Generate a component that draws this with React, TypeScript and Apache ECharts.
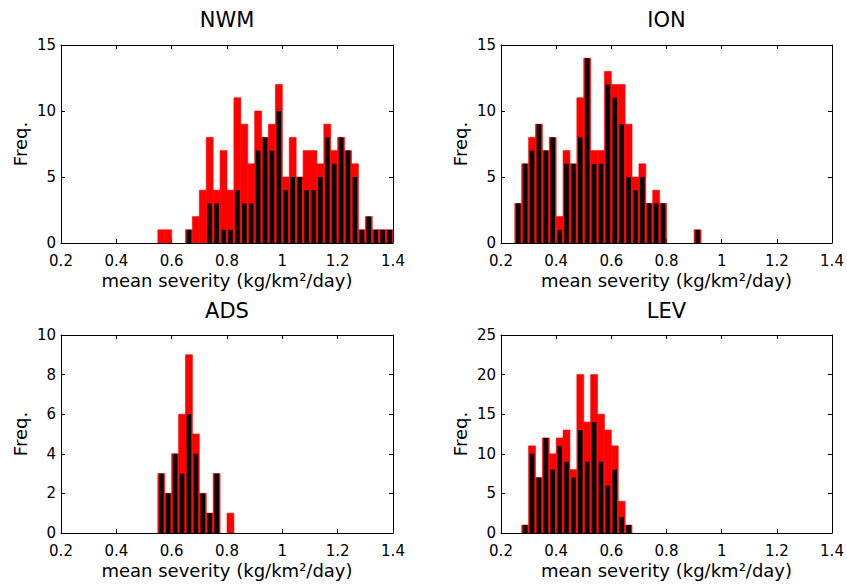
import React, { useEffect, useRef } from 'react';
import * as echarts from 'echarts';

// Histogram bins: 48 bins of 0.025 from 0.2 to 1.4
const X_MIN = 0.2;
const X_MAX = 1.4;
const X_TICK_INTERVAL = 0.2;
const BIN_WIDTH = 0.025;
const BIN_COUNT = 48;

const nwmRed = [0,0,0,0,0,0,0,0,0,0,0,0,0,0,1,1,0,0,1,2,4,8,4,7,4,11,9,6,10,8,9,12,5,8,5,7,7,6,9,7,8,7,6,1,2,1,1,1];
const nwmBlack = [0,0,0,0,0,0,0,0,0,0,0,0,0,0,0,0,0,0,1,0,0,3,3,1,1,4,3,3,7,8,7,10,4,5,5,4,4,5,8,6,8,7,5,1,2,1,1,1];

const ionRed = [0,0,3,6,8,9,7,8,2,7,6,11,14,7,7,13,12,12,9,5,6,3,4,3,0,0,0,0,1,0,0,0,0,0,0,0,0,0,0,0,0,0,0,0,0,0,0,0];
const ionBlack = [0,0,3,6,7,9,7,8,1,6,6,8,14,6,6,12,11,9,5,4,5,3,3,3,0,0,0,0,1,0,0,0,0,0,0,0,0,0,0,0,0,0,0,0,0,0,0,0];

const adsRed = [0,0,0,0,0,0,0,0,0,0,0,0,0,0,3,2,4,6,9,5,2,1,3,0,1,0,0,0,0,0,0,0,0,0,0,0,0,0,0,0,0,0,0,0,0,0,0,0];
const adsBlack = [0,0,0,0,0,0,0,0,0,0,0,0,0,0,3,2,4,3,6,4,2,1,3,0,0,0,0,0,0,0,0,0,0,0,0,0,0,0,0,0,0,0,0,0,0,0,0,0];

const levRed = [0,0,0,1,11,7,12,10,12,13,8,20,14,20,15,13,11,4,1,0,0,0,0,0,0,0,0,0,0,0,0,0,0,0,0,0,0,0,0,0,0,0,0,0,0,0,0,0];
const levBlack = [0,0,0,1,10,7,12,8,11,9,7,13,9,14,9,6,8,2,1,0,0,0,0,0,0,0,0,0,0,0,0,0,0,0,0,0,0,0,0,0,0,0,0,0,0,0,0,0];

const titles = ['NWM', 'ION', 'ADS', 'LEV'];
const yMaxes = [15, 15, 10, 25];
const yIntervals = [5, 5, 2, 5];
const redSeries = [nwmRed, ionRed, adsRed, levRed];
const blackSeries = [nwmBlack, ionBlack, adsBlack, levBlack];

const X_NAME = 'mean severity (kg/km²/day)';
const Y_NAME = 'Freq.';

const FONT = '"DejaVu Sans", sans-serif';

// layout (pixels)
const GRID_LEFTS = [61, 501, 61, 501];
const GRID_TOPS = [45, 45, 335, 335];
const GRID_WIDTHS = [332, 331, 332, 331];
const GRID_HEIGHT = 198;
const TITLE_YS = [19.5, 19.5, 311, 311];

function toBins(values: number[]) {
  const out: number[][] = [];
  for (let i = 0; i < BIN_COUNT; i++) {
    const x0 = X_MIN + i * BIN_WIDTH;
    out.push([x0, x0 + BIN_WIDTH, values[i]]);
  }
  return out;
}

function makeRender(fraction: number, color: string, stroke: boolean) {
  return (params: any, api: any) => {
    const x0 = api.value(0);
    const x1 = api.value(1);
    const v = api.value(2);
    if (!v) return null;
    const mid = (x0 + x1) / 2;
    const half = ((x1 - x0) * fraction) / 2;
    const a = api.coord([mid - half, v]);
    const b = api.coord([mid + half, 0]);
    return {
      type: 'rect',
      shape: { x: a[0], y: a[1], width: b[0] - a[0], height: b[1] - a[1] },
      style: stroke
        ? { fill: color, stroke: color, lineWidth: 0.6 }
        : { fill: color },
    };
  };
}

export default function App() {
  const ref = useRef<HTMLDivElement>(null);

  useEffect(() => {
    if (!ref.current) return;
    const chart = echarts.init(ref.current, undefined, { renderer: 'svg' });

    const grid: any[] = [];
    const xAxis: any[] = [];
    const yAxis: any[] = [];
    const series: any[] = [];
    const graphic: any[] = [];

    for (let p = 0; p < 4; p++) {
      grid.push({
        left: GRID_LEFTS[p],
        top: GRID_TOPS[p],
        width: GRID_WIDTHS[p],
        height: GRID_HEIGHT,
        containLabel: false,
      });
      const axisLine = { show: true, onZero: false, lineStyle: { color: '#000', width: 1 } };
      const axisTick = { show: true, inside: true, length: 4, lineStyle: { color: '#000', width: 1 } };
      xAxis.push({
        type: 'value',
        gridIndex: p,
        position: 'bottom',
        min: X_MIN,
        max: X_MAX,
        interval: X_TICK_INTERVAL,
        axisLine,
        axisTick,
        splitLine: { show: false },
        axisLabel: { color: '#000', fontFamily: FONT, fontSize: 15, lineHeight: 15, margin: 10 },
        name: X_NAME,
        nameLocation: 'middle',
        nameGap: 28,
        nameTextStyle: { color: '#000', fontFamily: FONT, fontSize: 18, lineHeight: 18 },
      });
      xAxis.push({
        type: 'value',
        gridIndex: p,
        position: 'top',
        min: X_MIN,
        max: X_MAX,
        interval: X_TICK_INTERVAL,
        axisLine,
        axisTick,
        splitLine: { show: false },
        axisLabel: { show: false },
      });
      yAxis.push({
        type: 'value',
        gridIndex: p,
        position: 'left',
        min: 0,
        max: yMaxes[p],
        interval: yIntervals[p],
        axisLine,
        axisTick,
        splitLine: { show: false },
        axisLabel: { color: '#000', fontFamily: FONT, fontSize: 15, lineHeight: 15, margin: 5 },
        name: Y_NAME,
        nameLocation: 'middle',
        nameRotate: 90,
        nameGap: 32,
        nameTextStyle: { color: '#000', fontFamily: FONT, fontSize: 18 },
      });
      yAxis.push({
        type: 'value',
        gridIndex: p,
        position: 'right',
        min: 0,
        max: yMaxes[p],
        interval: yIntervals[p],
        axisLine,
        axisTick,
        splitLine: { show: false },
        axisLabel: { show: false },
      });

      series.push({
        type: 'custom',
        name: titles[p] + ' red',
        xAxisIndex: 2 * p,
        yAxisIndex: 2 * p,
        renderItem: makeRender(1, '#ff0000', true),
        encode: { x: [0, 1], y: 2 },
        data: toBins(redSeries[p]),
        clip: true,
        z: 2,
      });
      series.push({
        type: 'custom',
        name: titles[p] + ' black',
        xAxisIndex: 2 * p,
        yAxisIndex: 2 * p,
        renderItem: makeRender(0.66, '#000000', false),
        encode: { x: [0, 1], y: 2 },
        data: toBins(blackSeries[p]),
        clip: true,
        z: 3,
      });

      graphic.push({
        type: 'text',
        x: GRID_LEFTS[p] + GRID_WIDTHS[p] / 2,
        y: TITLE_YS[p],
        style: {
          text: titles[p],
          fontFamily: FONT,
          fontSize: 21,
          fill: '#000',
          align: 'center',
          textAlign: 'center',
          verticalAlign: 'middle',
          textVerticalAlign: 'middle',
        },
      });
    }

    chart.setOption({
      animation: false,
      backgroundColor: '#fff',
      grid,
      xAxis,
      yAxis,
      series,
      graphic,
    });

    return () => {
      chart.dispose();
    };
  }, []);

  return (
    <div
      ref={ref}
      style={{ position: 'fixed', left: 0, top: 0, width: 847, height: 586, background: '#fff' }}
    />
  );
}
